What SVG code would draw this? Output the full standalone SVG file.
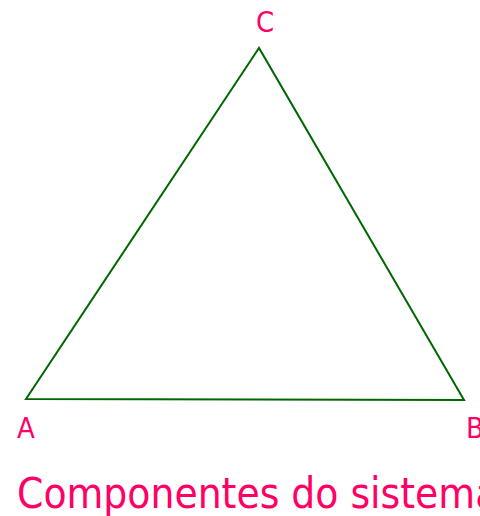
<svg xmlns="http://www.w3.org/2000/svg" width="480" height="516" viewBox="0 0 480 516">
<style>
.lbl{font-family:"DejaVu Sans Condensed","DejaVu Sans",sans-serif;fill:#FF0066;}
.edge{stroke:#006600;stroke-width:2;fill:none;stroke-linejoin:miter;}
</style>
<rect width="480" height="516" fill="#FFFFFF"/>
<g id="connectors">
<polygon class="edge" points="26,399 464,400 259,48"/>
</g>
<g id="node-C"><text class="lbl" x="265" y="32" font-size="29" text-anchor="middle">C</text></g>
<g id="node-A"><text class="lbl" x="17" y="438" font-size="29">A</text></g>
<g id="node-B"><text class="lbl" x="466" y="438" font-size="29">B</text></g>
<g id="title"><text class="lbl" x="17" y="508" font-size="42">Componentes do sistema</text></g>
</svg>
